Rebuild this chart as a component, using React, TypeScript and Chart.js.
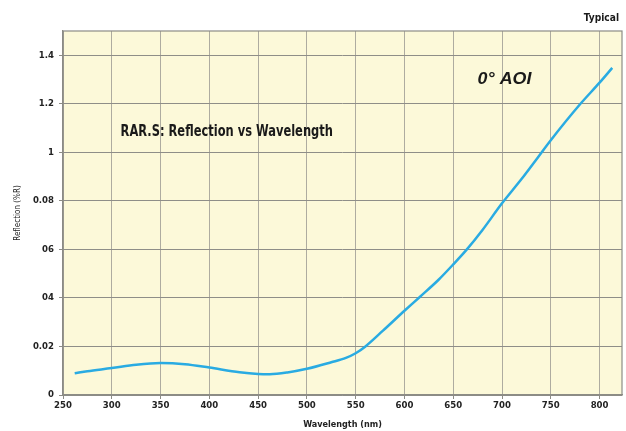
import React, { useEffect, useRef } from "react";
import { Chart, registerables } from "chart.js";

Chart.register(...registerables);

const wavelengths = [262, 275, 300, 325, 350, 375, 400, 431, 450, 462, 480, 500, 525, 540, 550, 560, 578, 600, 616, 635, 650, 664, 680, 700, 720, 736, 750, 780, 800, 813];
const reflection = [0.090, 0.098, 0.111, 0.125, 0.132, 0.127, 0.113, 0.094, 0.087, 0.086, 0.093, 0.108, 0.135, 0.153, 0.172, 0.200, 0.265, 0.347, 0.405, 0.475, 0.538, 0.600, 0.680, 0.790, 0.890, 0.975, 1.050, 1.198, 1.287, 1.348];

const xTickValues = [250, 300, 350, 400, 450, 500, 550, 600, 650, 700, 750, 800];
const yTickValues = [0, 0.2, 0.4, 0.6, 0.8, 1.0, 1.2, 1.4];
const yTickLabels = ["0", "0.02", "04", "06", "0.08", "1", "1.2", "1.4"];

const chartTitle = "RAR.S: Reflection vs Wavelength";
const aoiLabel = "0° AOI";
const cornerLabel = "Typical";
const xTitle = "Wavelength (nm)";
const yTitle = "Reflection (%R)";

const NARROW = "'Liberation Sans Narrow', 'Arial Narrow', 'DejaVu Sans Condensed', sans-serif";
const WIDE = "'Liberation Sans', Arial, 'DejaVu Sans', sans-serif";

function drawSqueezed(ctx: any, text: string, x: number, y: number, sx: number, align: string) {
  ctx.save();
  ctx.translate(x, y);
  ctx.scale(sx, 1);
  ctx.textAlign = align;
  ctx.fillText(text, 0, 0);
  ctx.restore();
}

const backgroundPlugin = {
  id: "plotBackground",
  beforeDraw(chart: any) {
    const { ctx, chartArea } = chart;
    ctx.save();
    ctx.fillStyle = "#fcf9d9";
    ctx.fillRect(chartArea.left, chartArea.top, chartArea.right - chartArea.left, chartArea.bottom - chartArea.top);
    ctx.restore();
  },
  afterDatasetsDraw(chart: any) {
    const { ctx, chartArea, scales } = chart;
    ctx.save();
    ctx.strokeStyle = "#8c8c86";
    ctx.lineWidth = 1.2;
    ctx.strokeRect(chartArea.left, chartArea.top, chartArea.right - chartArea.left, chartArea.bottom - chartArea.top);
    ctx.fillStyle = "#1a1a1a";
    ctx.textBaseline = "middle";
    ctx.font = `bold 15px ${NARROW}`;
    drawSqueezed(ctx, chartTitle, scales.x.getPixelForValue(309), scales.y.getPixelForValue(1.085), 0.85, "left");
    ctx.font = `italic bold 17px ${WIDE}`;
    drawSqueezed(ctx, aoiLabel, scales.x.getPixelForValue(675), scales.y.getPixelForValue(1.3), 1.05, "left");
    ctx.font = `bold 11px ${NARROW}`;
    drawSqueezed(ctx, cornerLabel, chartArea.right - 3, chartArea.top - 12.5, 0.92, "right");
    ctx.restore();
  },
};

export default function App() {
  const ref = useRef<HTMLCanvasElement | null>(null);
  useEffect(() => {
    if (!ref.current) return;
    const chart = new Chart(ref.current, {
      type: "line",
      data: {
        datasets: [
          {
            data: wavelengths.map((w, i) => ({ x: w, y: reflection[i] })),
            borderColor: "#29abe2",
            borderWidth: 2.5,
            pointRadius: 0,
            fill: false,
            cubicInterpolationMode: "monotone",
          },
        ],
      },
      options: {
        animation: false,
        responsive: false,
        layout: { padding: { top: 31, right: 4, bottom: 0, left: 0 } },
        plugins: {
          legend: { display: false },
          tooltip: { enabled: false },
          title: { display: false },
        },
        scales: {
          x: {
            type: "linear",
            min: 250,
            max: 823,
            afterBuildTicks: (scale: any) => {
              scale.ticks = xTickValues.map((v) => ({ value: v }));
            },
            afterFit: (scale: any) => {
              scale.height = 36;
            },
            grid: { color: "#aeaca0", lineWidth: 1, drawTicks: true, tickLength: 4, tickColor: "#8c8c86" },
            border: { display: true, color: "#8c8c86", width: 1.2 },
            ticks: {
              color: "#222",
              padding: 1,
              maxRotation: 0,
              font: { family: NARROW, size: 9.5, weight: "bold" },
              callback: (v: any) => String(v),
            },
            title: {
              display: true,
              text: xTitle,
              color: "#222",
              font: { family: NARROW, size: 9, weight: "bold" },
              padding: { top: 0, bottom: 1 },
            },
          },
          y: {
            type: "linear",
            min: 0,
            max: 1.5,
            afterBuildTicks: (scale: any) => {
              scale.ticks = yTickValues.map((v) => ({ value: v }));
            },
            afterFit: (scale: any) => {
              scale.width = 63;
            },
            grid: { color: "#8e8e88", lineWidth: 1, drawTicks: true, tickLength: 4, tickColor: "#8c8c86" },
            border: { display: true, color: "#8c8c86", width: 1.2 },
            ticks: {
              color: "#222",
              padding: 5,
              font: { family: NARROW, size: 9.5, weight: "bold" },
              callback: (v: any) => {
                const i = yTickValues.findIndex((t) => Math.abs(t - Number(v)) < 1e-6);
                return i >= 0 ? yTickLabels[i] : "";
              },
            },
            title: {
              display: true,
              text: yTitle,
              color: "#222",
              font: { family: NARROW, size: 8 },
              padding: { top: 13, bottom: 0 },
            },
          },
        },
      },
      plugins: [backgroundPlugin],
    } as any);
    return () => chart.destroy();
  }, []);
  return (
    <div style={{ position: "absolute", left: 0, top: 0, width: 626, height: 431, background: "#fff" }}>
      <canvas ref={ref} width={626} height={431} style={{ display: "block" }} />
    </div>
  );
}
